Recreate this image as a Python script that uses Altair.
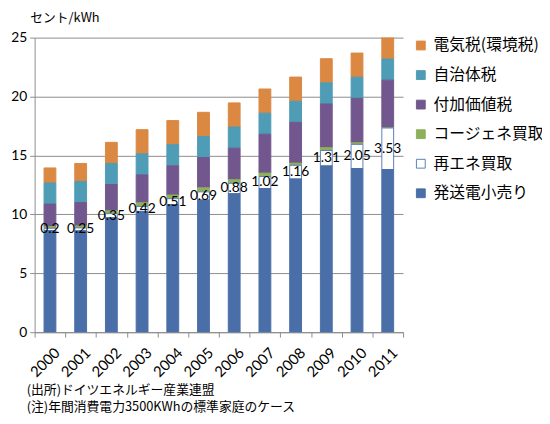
import altair as alt
import pandas as pd

years = ["2000", "2001", "2002", "2003", "2004", "2005",
         "2006", "2007", "2008", "2009", "2010", "2011"]
generation = [8.62, 8.60, 9.71, 10.25, 10.82, 11.22, 11.75, 12.19, 13.00, 14.11, 13.89, 13.80]
renewable = [0.20, 0.25, 0.35, 0.42, 0.51, 0.69, 0.88, 1.02, 1.16, 1.31, 2.05, 3.53]
cogeneration = [0.13, 0.17, 0.25, 0.31, 0.31, 0.34, 0.31, 0.29, 0.19, 0.24, 0.13, 0.03]
vat = [1.92, 1.98, 2.22, 2.37, 2.48, 2.57, 2.68, 3.30, 3.46, 3.71, 3.78, 4.03]
concession = [1.79, 1.79, 1.79, 1.79, 1.79, 1.79, 1.79, 1.79, 1.79, 1.79, 1.79, 1.79]
electricity_tax = [1.28, 1.53, 1.79, 2.05, 2.05, 2.05, 2.05, 2.05, 2.05, 2.05, 2.05, 2.05]

# legend order (top to bottom)
series_names = ["電気税(環境税)", "自治体税", "付加価値税", "コージェネ買取", "再エネ買取", "発送電小売り"]
fill_colors = ["#DB8843", "#4E9CB5", "#72578E", "#8DB05A", "#FFFFFF", "#4A6FA8"]
stroke_colors = ["#DB8843", "#4E9CB5", "#72578E", "#8DB05A", "#5B7FB8", "#4A6FA8"]

series_values = [electricity_tax, concession, vat, cogeneration, renewable, generation]

rows = []
for si, (name, vals) in enumerate(zip(series_names, series_values)):
    stack_pos = len(series_names) - 1 - si  # generation at bottom
    for y, v in zip(years, vals):
        rows.append({"year": y, "series": name, "value": v, "stack": stack_pos})
df = pd.DataFrame(rows)

lab = pd.DataFrame({"year": years, "eeg": renewable, "base": generation})
lab["mid"] = lab["base"] + lab["eeg"] / 2

JP = "Noto Sans CJK JP"
NUM = "Lato"
GRID = "#8c8c8c"

x_axis = alt.Axis(title="", labelAngle=-45, labelAlign="right",
                  labelBaseline="top", tickBand="extent",
                  tickSize=5, labelPadding=8, labelOffset=2, grid=False,
                  domainColor=GRID, tickColor=GRID,
                  labelFont=NUM, labelFontSize=15, labelColor="black")
x_scale = alt.Scale(paddingInner=0, paddingOuter=0)

y_scale = alt.Scale(domain=[0, 25], nice=False)
y_axis = alt.Axis(values=[0, 5, 10, 15, 20, 25], grid=True,
                  gridColor=GRID, domainColor=GRID, tickColor=GRID,
                  tickSize=5, labelPadding=3, labelFont=NUM,
                  labelFontSize=14, labelColor="black",
                  title="セント/kWh", titleAngle=0, titleX=-5, titleY=-20,
                  titleAlign="left", titleBaseline="middle",
                  titleFont=JP, titleFontSize=13, titleFontWeight="normal",
                  titleColor="black")

legend = alt.Legend(title=None, orient="none", legendX=384, legendY=0,
                    symbolType="square", symbolSize=80, symbolStrokeWidth=1,
                    labelFont=JP, labelFontSize=16, labelColor="black",
                    rowPadding=14, labelOffset=5, padding=0, labelLimit=200)

bars = alt.Chart(df).mark_bar(width=12, clip=True, strokeWidth=1).encode(
    x=alt.X("year:O", sort=years, scale=x_scale, axis=x_axis),
    y=alt.Y("value:Q", stack="zero", scale=y_scale, axis=y_axis),
    fill=alt.Fill("series:N", scale=alt.Scale(domain=series_names, range=fill_colors),
                  legend=legend),
    stroke=alt.Stroke("series:N", scale=alt.Scale(domain=series_names, range=stroke_colors),
                      legend=legend),
    order=alt.Order("stack:Q", sort="ascending"),
)

labels = alt.Chart(lab).mark_text(font=NUM, fontSize=14, color="black",
                                  align="center", baseline="middle").encode(
    x=alt.X("year:O", sort=years, scale=x_scale, axis=x_axis),
    y=alt.Y("mid:Q", scale=y_scale, axis=y_axis),
    text=alt.Text("eeg:Q", format=".2~f"),
)

note1 = alt.Chart(alt.Data(values=[{}])).mark_text(
    text="(出所)ドイツエネルギー産業連盟", align="left", baseline="middle",
    font=JP, fontSize=13, color="black").encode(x=alt.value(-8), y=alt.value(358))
note2 = alt.Chart(alt.Data(values=[{}])).mark_text(
    text="(注)年間消費電力3500KWhの標準家庭のケース", align="left", baseline="middle",
    font=JP, fontSize=13, color="black").encode(x=alt.value(-8), y=alt.value(375))

chart = alt.layer(bars, labels, note1, note2).properties(
    width=374, height=299,
    padding={"left": 27, "top": 27, "right": 141, "bottom": 82},
    autosize="none",
).configure_view(strokeWidth=0)

chart.save("out.html", embed_options={"renderer": "svg", "actions": False})
